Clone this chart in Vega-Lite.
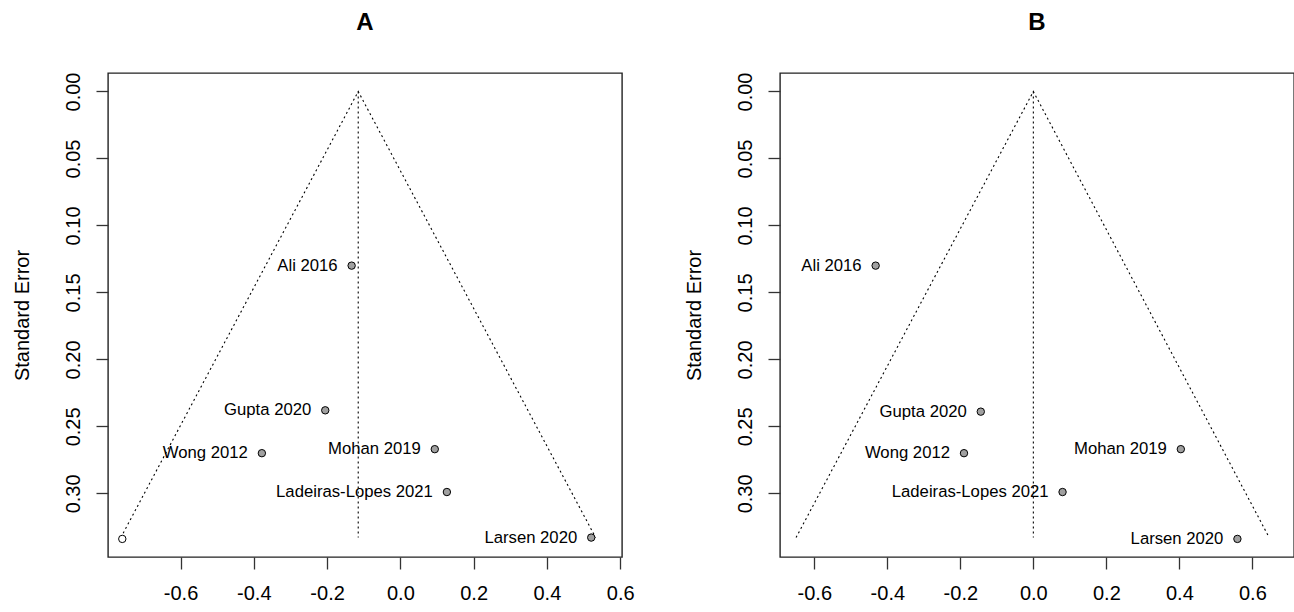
{
  "$schema": "https://vega.github.io/schema/vega-lite/v6.json",
  "background": "white",
  "padding": {"left": 11, "top": 10, "right": 0, "bottom": 0},
  "bounds": "flush",
  "spacing": 158,
  "datasets": {
    "a_pts": [
      {"study": "Ali 2016", "yi": -0.133, "se": 0.130, "kind": "observed"},
      {"study": "Gupta 2020", "yi": -0.205, "se": 0.238, "kind": "observed"},
      {"study": "Wong 2012", "yi": -0.378, "se": 0.270, "kind": "observed"},
      {"study": "Mohan 2019", "yi": 0.094, "se": 0.267, "kind": "observed"},
      {"study": "Ladeiras-Lopes 2021", "yi": 0.127, "se": 0.299, "kind": "observed"},
      {"study": "Larsen 2020", "yi": 0.521, "se": 0.333, "kind": "observed"},
      {"study": "", "yi": -0.759, "se": 0.334, "kind": "filled"}
    ],
    "b_pts": [
      {"study": "Ali 2016", "yi": -0.432, "se": 0.130, "kind": "observed"},
      {"study": "Gupta 2020", "yi": -0.144, "se": 0.239, "kind": "observed"},
      {"study": "Wong 2012", "yi": -0.190, "se": 0.270, "kind": "observed"},
      {"study": "Mohan 2019", "yi": 0.404, "se": 0.267, "kind": "observed"},
      {"study": "Ladeiras-Lopes 2021", "yi": 0.080, "se": 0.299, "kind": "observed"},
      {"study": "Larsen 2020", "yi": 0.559, "se": 0.334, "kind": "observed"}
    ],
    "a_lines": [
      {"part": "funnel", "i": 1, "yi": -0.763, "se": 0.333},
      {"part": "funnel", "i": 2, "yi": -0.115, "se": 0.0},
      {"part": "funnel", "i": 3, "yi": 0.533, "se": 0.333},
      {"part": "center", "i": 1, "yi": -0.115, "se": 0.0},
      {"part": "center", "i": 2, "yi": -0.115, "se": 0.333}
    ],
    "b_lines": [
      {"part": "funnel", "i": 1, "yi": -0.650, "se": 0.333},
      {"part": "funnel", "i": 2, "yi": 0.0, "se": 0.0},
      {"part": "funnel", "i": 3, "yi": 0.646, "se": 0.333},
      {"part": "center", "i": 1, "yi": 0.0, "se": 0.0},
      {"part": "center", "i": 2, "yi": 0.0, "se": 0.333}
    ]
  },
  "hconcat": [
    {
      "title": {"text": "A"},
      "width": 514,
      "height": 484,
      "layer": [
        {
          "data": {"name": "a_lines"},
          "mark": {"type": "line", "strokeDash": [2, 3], "color": "#000000", "strokeWidth": 1.1},
          "encoding": {
            "x": {"field": "yi", "type": "quantitative", "scale": {"domain": [-0.798, 0.605], "nice": false, "zero": false}, "axis": {"title": null, "values": [-0.6, -0.4, -0.2, 0, 0.2, 0.4, 0.6], "labelExpr": "replace(format(datum.value, '.1f'), '\u2212', '-')"}},
            "y": {"field": "se", "type": "quantitative", "scale": {"domain": [-0.0138, 0.3475], "reverse": true, "nice": false, "zero": false}, "axis": {"title": "Standard Error", "values": [0, 0.05, 0.1, 0.15, 0.2, 0.25, 0.3], "format": ".2f"}},
            "detail": {"field": "part"},
            "order": {"field": "i"}
          }
        },
        {
          "data": {"name": "a_pts"},
          "mark": {"type": "point", "filled": true, "size": 55, "stroke": "#000000", "strokeWidth": 1, "opacity": 1},
          "encoding": {
            "x": {"field": "yi", "type": "quantitative"},
            "y": {"field": "se", "type": "quantitative"},
            "fill": {"field": "kind", "type": "nominal", "scale": {"domain": ["observed", "filled"], "range": ["#a0a0a0", "#ffffff"]}, "legend": null}
          }
        },
        {
          "data": {"name": "a_pts"},
          "mark": {"type": "text", "align": "right", "baseline": "middle", "dx": -14, "fontSize": 16.7, "font": "Liberation Sans", "color": "#000000"},
          "encoding": {
            "x": {"field": "yi", "type": "quantitative"},
            "y": {"field": "se", "type": "quantitative"},
            "text": {"field": "study"}
          }
        }
      ]
    },
    {
      "title": {"text": "B"},
      "width": 514,
      "height": 484,
      "layer": [
        {
          "data": {"name": "b_lines"},
          "mark": {"type": "line", "strokeDash": [2, 3], "color": "#000000", "strokeWidth": 1.1},
          "encoding": {
            "x": {"field": "yi", "type": "quantitative", "scale": {"domain": [-0.694, 0.714], "nice": false, "zero": false}, "axis": {"title": null, "values": [-0.6, -0.4, -0.2, 0, 0.2, 0.4, 0.6], "labelExpr": "replace(format(datum.value, '.1f'), '\u2212', '-')"}},
            "y": {"field": "se", "type": "quantitative", "scale": {"domain": [-0.0138, 0.3475], "reverse": true, "nice": false, "zero": false}, "axis": {"title": "Standard Error", "values": [0, 0.05, 0.1, 0.15, 0.2, 0.25, 0.3], "format": ".2f"}},
            "detail": {"field": "part"},
            "order": {"field": "i"}
          }
        },
        {
          "data": {"name": "b_pts"},
          "mark": {"type": "point", "filled": true, "size": 55, "stroke": "#000000", "strokeWidth": 1, "opacity": 1},
          "encoding": {
            "x": {"field": "yi", "type": "quantitative"},
            "y": {"field": "se", "type": "quantitative"},
            "fill": {"field": "kind", "type": "nominal", "scale": {"domain": ["observed", "filled"], "range": ["#a0a0a0", "#ffffff"]}, "legend": null}
          }
        },
        {
          "data": {"name": "b_pts"},
          "mark": {"type": "text", "align": "right", "baseline": "middle", "dx": -14, "fontSize": 16.7, "font": "Liberation Sans", "color": "#000000"},
          "encoding": {
            "x": {"field": "yi", "type": "quantitative"},
            "y": {"field": "se", "type": "quantitative"},
            "text": {"field": "study"}
          }
        }
      ]
    }
  ],
  "config": {
    "font": "Liberation Sans",
    "view": {"stroke": "#222222", "strokeWidth": 1.4},
    "title": {"fontSize": 24, "fontWeight": "bold", "font": "Liberation Sans", "color": "#000000", "baseline": "alphabetic", "offset": 37, "anchor": "middle"},
    "axis": {"grid": false, "domain": false, "tickColor": "#333333", "tickWidth": 1.3, "tickSize": 12, "labelFont": "Liberation Sans", "labelFontSize": 20, "labelColor": "#000000", "titleFont": "Liberation Sans", "titleFontSize": 20, "titleFontWeight": "normal", "titleColor": "#000000", "labelOverlap": false, "labelFlush": false},
    "axisX": {"labelPadding": 14},
    "axisY": {"labelAngle": 270, "labelAlign": "center", "labelBaseline": "alphabetic", "labelPadding": 17, "titleAngle": 270, "titleAlign": "center", "titleBaseline": "alphabetic", "titleX": -80, "titleY": 242}
  }
}
